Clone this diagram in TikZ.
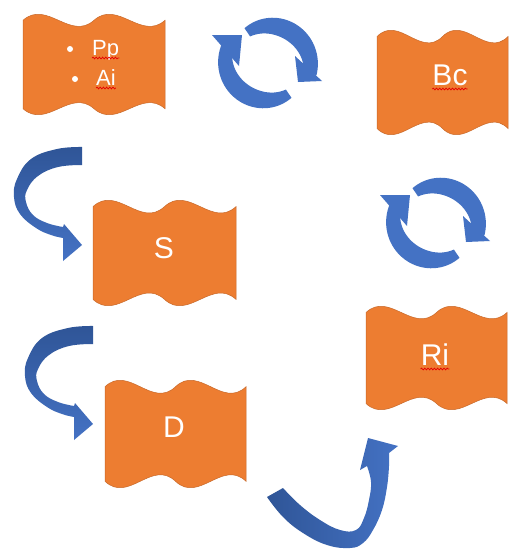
\documentclass[tikz,border=0pt]{standalone}
\usepackage{fontspec}
\setmainfont{Liberation Sans}
\usetikzlibrary{decorations.pathmorphing}

\definecolor{wavefill}{HTML}{ED7D31}
\definecolor{waveline}{HTML}{C8692A}
\definecolor{bluelight}{HTML}{4472C4}
\definecolor{bluemid}{HTML}{3B64B2}
\definecolor{bluedark}{HTML}{2F5597}

% double-wave banner: left, top, right, bottom (pixel units, y downwards)
\newcommand\wavebox[4]{%
  \pgfmathsetmacro\wW{#3-#1}%
  \pgfmathsetmacro\wD{0.0625*(#4-#2)}%
  \pgfmathsetmacro\wE{\wD*10/3}%
  \pgfmathsetmacro\wA{#2+\wD}%
  \pgfmathsetmacro\wB{#4-\wD}%
  \filldraw[banner] (#1,\wA)
    .. controls ({#1+\wW/6},{\wA-\wE}) and ({#1+\wW/3},{\wA+\wE}) .. ({#1+\wW/2},\wA)
    .. controls ({#1+2*\wW/3},{\wA-\wE}) and ({#1+5*\wW/6},{\wA+\wE}) .. (#3,\wA)
    -- (#3,\wB)
    .. controls ({#1+5*\wW/6},{\wB-\wE}) and ({#1+2*\wW/3},{\wB+\wE}) .. ({#1+\wW/2},\wB)
    .. controls ({#1+\wW/3},{\wB-\wE}) and ({#1+\wW/6},{\wB+\wE}) .. (#1,\wB)
    -- cycle;}

% ribbon arrow bending round to the left and pointing right; origin = top of the tail cut
\newcommand\bendarrow[2]{%
  \begin{scope}[shift={(#1,#2)}]
    \shade[top color=bluedark, middle color=bluemid, bottom color=bluelight]
      plot[smooth, tension=0.7] coordinates {(0,0) (-25,2) (-51,12) (-65,32) (-68,50) (-62,67) (-46,81) (-31,88) (-19,91)}
      -- (-19,114) -- (0,98) -- (-18,77) -- (-19,80)
      -- plot[smooth, tension=0.7] coordinates {(-19,80) (-35,76) (-49,68) (-56,55) (-55,43) (-44,29) (-24,20) (0,18)}
      -- cycle;
  \end{scope}}

% one tapered arc of the refresh symbol: end angle, then head inner corner, outer corner, tip
\newcommand\cyclearc[4]{%
  \fill[bluelight]
    plot[domain=236:#1, samples=40, smooth] ({rout(\x)*cos(\x)},{rout(\x)*sin(\x)})
    -- plot[domain=#1:236, samples=40, smooth] ({rin(\x)*cos(\x)},{rin(\x)*sin(\x)})
    -- cycle;
  \fill[bluelight] #2 -- #3 -- #4 -- cycle;}

% two arcs chasing each other round a centre
\newcommand\cyclepair[2]{%
  \begin{scope}[shift={(#1,#2)}]
    \cyclearc{374}{(27,-7)}{(54,18)}{(30,19)}
    \begin{scope}[rotate=180]\cyclearc{382}{(29,-3)}{(56,28)}{(26,28)}\end{scope}
  \end{scope}}

\begin{document}
\begin{tikzpicture}[x=1pt, y=-1pt,
  declare function={arct(\a)=(\a-236)/138;
                    rout(\a)=42+8*sin(90*arct(\a));
                    rin(\a)=rout(\a)-10-7*sin(180*arct(\a))-3*arct(\a);},
  banner/.style={fill=wavefill, draw=waveline, line width=0.5pt},
  bigtext/.style={text=white, font=\fontsize{30}{30}\selectfont, inner sep=0pt},
  smalltext/.style={text=white, font=\fontsize{22}{22}\selectfont, inner sep=0pt},
  squiggle/.style={draw=red!90!black, line width=0.7pt, decorate,
                   decoration={snake, segment length=3.2pt, amplitude=0.9pt}}]
\useasboundingbox[fill=white] (0,0) rectangle (510,549);

% banners
\wavebox{23}{14}{165}{115}
\wavebox{377}{30}{508}{135}
\wavebox{93}{200}{236}{306}
\wavebox{105}{380}{246}{488}
\wavebox{366}{306}{507}{410}

% banner texts
\fill[white] (70,49) circle (3);
\fill[white] (75,79) circle (3);
\node[smalltext, anchor=base west] (pp) at (92,55) {Pp};
\node[smalltext, anchor=base west] (ai) at (96,85) {Ai};
\node[bigtext, anchor=base] (bc) at (450,85) {Bc};
\node[bigtext, anchor=base] (s) at (164,258) {S};
\node[bigtext, anchor=base] (d) at (174,437) {D};
\node[bigtext, anchor=base] (ri) at (435,365) {Ri};

% spelling marks under the words
\draw[squiggle] ([yshift=-3pt]pp.base west) -- ([yshift=-3pt]pp.base east);
\draw[squiggle] ([yshift=-3pt]ai.base west) -- ([yshift=-3pt]ai.base east);
\draw[squiggle] ([yshift=-4pt]bc.base west) -- ([yshift=-4pt]bc.base east);
\draw[squiggle] ([yshift=-4pt]ri.base west) -- ([yshift=-4pt]ri.base east);

% refresh symbols
\cyclepair{268}{63}
\cyclepair{436}{223}

% bent ribbon arrows on the left
\bendarrow{82}{147}
\bendarrow{93}{326}

% upward ribbon arrow at the bottom
\shade[left color=bluedark, right color=bluelight]
  plot[smooth, tension=0.7] coordinates {(267,497) (283,517) (303,533) (327,545) (350,548) (363,543) (373,530) (382,510) (387,487) (389,466) (389,453)}
  -- (398,446) -- (368,438) -- (360,470) -- (367,466)
  -- plot[smooth, tension=0.7] coordinates {(367,466) (371,482) (369,500) (364,518) (356,530) (340,530) (320,520) (300,505) (283,488)}
  -- cycle;
\end{tikzpicture}
\end{document}
